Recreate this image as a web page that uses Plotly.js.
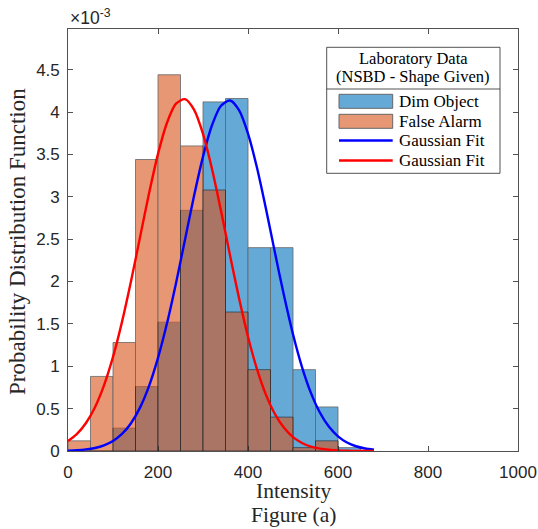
<!DOCTYPE html>
<html>
<head>
<meta charset="utf-8">
<script src="https://cdn.plot.ly/plotly-3.0.1.min.js"></script>
<style>html,body{margin:0;padding:0;background:#fff;}#chart{width:538px;height:529px;}</style>
</head>
<body>
<div id="chart"></div>
<script>
// ---- data (values in units of 1e-3) ----
const binCenters = [25, 75, 125, 175, 225, 275, 325, 375, 425, 475, 525, 575, 625];
const binWidth = 50;
const dimObject  = [0, 0, 0.27, 0.76, 1.52, 2.84, 4.12, 4.16, 2.40, 2.40, 0.96, 0.52, 0.04];
const falseAlarm = [0.12, 0.88, 1.28, 3.44, 4.44, 3.60, 3.08, 1.64, 0.96, 0.40, 0.04, 0.12, 0];
const fitX = [0,20,40,60,80,100,120,140,160,180,200,220,240,260,280,300,320,340,360,380,400,420,440,460,480,500,520,540,560,580,600,620,640,660,680];
const dimFit = [0.0044,0.0092,0.0186,0.0359,0.0667,0.118,0.201,0.328,0.512,0.766,1.099,1.507,1.981,2.494,3.008,3.474,3.844,4.074,4.136,4.022,3.746,3.342,2.856,2.338,1.834,1.377,0.991,0.683,0.451,0.285,0.173,0.100,0.056,0.030,0.015];
const falseFit = [0.119,0.203,0.331,0.517,0.774,1.110,1.524,2.003,2.521,3.038,3.506,3.874,4.099,4.152,4.028,3.742,3.328,2.834,2.311,1.805,1.349,0.966,0.662,0.435,0.273,0.164,0.095,0.052,0.028,0.014,0.007,0.003,0.001,0.001,0.000];
const yTickVals = [0, 0.5, 1, 1.5, 2, 2.5, 3, 3.5, 4, 4.5];
const yTickText = ['0', '0.5', '1', '1.5', '2', '2.5', '3', '3.5', '4', '4.5'];
const xTickVals = [0, 200, 400, 600, 800, 1000];
const legendTitle = ['Laboratory Data', '(NSBD - Shape Given)'];
const legendNames = ['Dim Object', 'False Alarm', 'Gaussian Fit', 'Gaussian Fit'];

const blueFace = 'rgb(0,114,189)';
const orangeFace = 'rgb(217,83,25)';
const axisColor = '#262626';
const serif = 'Liberation Serif, Times New Roman, serif';
const sans = 'Liberation Sans, Arial, sans-serif';

const W = 538, H = 529;
const M = {l: 68, r: 20, t: 29, b: 78};
const pw = W - M.l - M.r, ph = H - M.t - M.b;
const px = p => (p - M.l) / pw;
const py = p => (H - M.b - p) / ph;

const traces = [
  {type: 'bar', x: binCenters, y: dimObject, width: binWidth, name: legendNames[0],
   marker: {color: blueFace, line: {color: '#000', width: 0.8}}, opacity: 0.6, showlegend: false, hoverinfo: 'skip'},
  {type: 'bar', x: binCenters, y: falseAlarm, width: binWidth, name: legendNames[1],
   marker: {color: orangeFace, line: {color: '#000', width: 0.8}}, opacity: 0.6, showlegend: false, hoverinfo: 'skip'},
  {type: 'scatter', mode: 'lines', x: fitX, y: dimFit, name: legendNames[2],
   line: {color: '#0000FF', width: 2.4, shape: 'spline', smoothing: 0.8}, showlegend: false, hoverinfo: 'skip'},
  {type: 'scatter', mode: 'lines', x: fitX, y: falseFit, name: legendNames[3],
   line: {color: '#FF0000', width: 2.4, shape: 'spline', smoothing: 0.8}, showlegend: false, hoverinfo: 'skip'}
];

// custom legend (MATLAB style box)
const lb = {x0: 326.7, x1: 500, y0: 47.3, y1: 173.3, sep: 89};
const shapes = [
  {type: 'rect', xref: 'paper', yref: 'paper', x0: px(lb.x0), x1: px(lb.x1), y0: py(lb.y1), y1: py(lb.y0),
   fillcolor: '#fff', line: {color: axisColor, width: 0.8}, layer: 'above'},
  {type: 'line', xref: 'paper', yref: 'paper', x0: px(lb.x0), x1: px(lb.x1), y0: py(lb.sep), y1: py(lb.sep),
   line: {color: axisColor, width: 0.8}, layer: 'above'},
  {type: 'rect', xref: 'paper', yref: 'paper', x0: px(339), x1: px(392.7), y0: py(108.3), y1: py(94.3),
   fillcolor: blueFace, opacity: 0.6, line: {color: '#000', width: 1}, layer: 'above'},
  {type: 'rect', xref: 'paper', yref: 'paper', x0: px(339), x1: px(392.7), y0: py(128.3), y1: py(114.3),
   fillcolor: orangeFace, opacity: 0.6, line: {color: '#000', width: 1}, layer: 'above'},
  {type: 'line', xref: 'paper', yref: 'paper', x0: px(339), x1: px(392.7), y0: py(140.5), y1: py(140.5),
   line: {color: '#0000FF', width: 2.4}, layer: 'above'},
  {type: 'line', xref: 'paper', yref: 'paper', x0: px(339), x1: px(392.7), y0: py(160.5), y1: py(160.5),
   line: {color: '#FF0000', width: 2.4}, layer: 'above'}
];

const legendEntryY = [101, 121, 140.5, 160];
const annotations = [
  {xref: 'paper', yref: 'paper', x: px((lb.x0 + lb.x1) / 2), y: py(58.3), text: legendTitle[0], showarrow: false,
   xanchor: 'center', yanchor: 'middle', font: {family: serif, size: 16.5, color: '#000'}},
  {xref: 'paper', yref: 'paper', x: px((lb.x0 + lb.x1) / 2), y: py(76.7), text: legendTitle[1], showarrow: false,
   xanchor: 'center', yanchor: 'middle', font: {family: serif, size: 16.5, color: '#000'}},
  {xref: 'paper', yref: 'paper', x: 0, y: 1, yanchor: 'bottom', xanchor: 'left', xshift: 0, yshift: -1,
   text: '×10<sup>-3</sup>', showarrow: false, font: {family: sans, size: 17.5, color: axisColor}},
  {xref: 'paper', yref: 'paper', x: 0.5, y: py(490.7), text: 'Intensity', showarrow: false,
   xanchor: 'center', yanchor: 'middle', font: {family: serif, size: 21.5, color: axisColor}},
  {xref: 'paper', yref: 'paper', x: 0.5, y: py(515), text: 'Figure (a)', showarrow: false,
   xanchor: 'center', yanchor: 'middle', font: {family: serif, size: 21.5, color: axisColor}},
  {xref: 'paper', yref: 'paper', x: px(18), y: py(242), text: 'Probability Distribution Function', showarrow: false,
   textangle: -90, xanchor: 'center', yanchor: 'middle', font: {family: serif, size: 23, color: axisColor}}
];
legendNames.forEach((n, i) => {
  annotations.push({xref: 'paper', yref: 'paper', x: px(396.5), y: py(legendEntryY[i]), text: n, showarrow: false,
    xanchor: 'left', yanchor: 'middle', font: {family: serif, size: 17, color: '#000'}});
});

const layout = {
  width: W, height: H, margin: M,
  paper_bgcolor: '#fff', plot_bgcolor: '#fff',
  barmode: 'overlay', bargap: 0, showlegend: false,
  font: {family: sans, size: 17, color: axisColor},
  xaxis: {range: [0, 1000], tickvals: xTickVals, ticks: 'inside', ticklen: 5, tickwidth: 0.8, tickcolor: axisColor,
    showline: true, linecolor: axisColor, linewidth: 0.8, mirror: 'ticks', showgrid: false, zeroline: false,
    ticklabelstandoff: 6, tickfont: {family: sans, size: 17, color: axisColor}},
  yaxis: {range: [0, 4.98], tickvals: yTickVals, ticktext: yTickText, ticks: 'inside', ticklen: 5, tickwidth: 0.8, tickcolor: axisColor,
    showline: true, linecolor: axisColor, linewidth: 0.8, mirror: 'ticks', showgrid: false, zeroline: false,
    ticklabelstandoff: 4, tickfont: {family: sans, size: 17, color: axisColor}},
  shapes: shapes,
  annotations: annotations
};

Plotly.newPlot('chart', traces, layout, {displayModeBar: false, staticPlot: true});
</script>
</body>
</html>
